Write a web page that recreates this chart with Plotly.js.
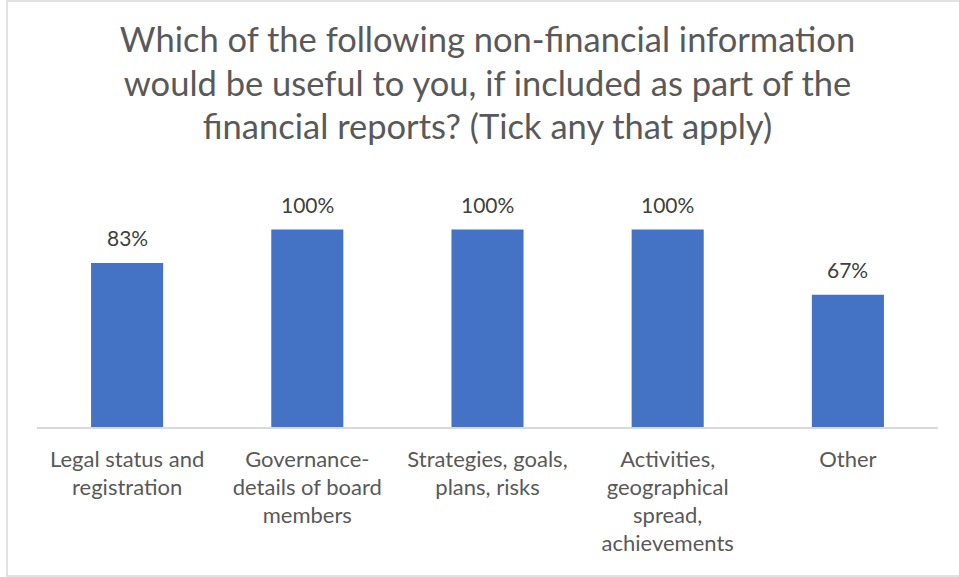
<!DOCTYPE html>
<html>
<head>
<meta charset="utf-8">
<script src="https://cdn.plot.ly/plotly-3.0.1.min.js"></script>
<style>html,body{margin:0;padding:0;background:#fff;}#chart{width:959px;height:577px;}</style>
</head>
<body>
<div id="chart"></div>
<script>
const categories = [
  "Legal status and<br>registration",
  "Governance-<br>details of board<br>members",
  "Strategies, goals,<br>plans, risks",
  "Activities,<br>geographical<br>spread,<br>achievements",
  "Other"
];
const values = [0.83, 1.00, 1.00, 1.00, 0.67];
const valueLabels = ["83%", "100%", "100%", "100%", "67%"];
const titleLines = [
  "Which of the following non-financial information",
  "would be useful to you, if included as part of the",
  "financial reports? (Tick any that apply)"
];

const FONT = "Lato, 'Open Sans', sans-serif";
const wrap = (s, px) => s.split("<br>").map(l => `<span style="font-size:${px}px">${l}</span>`).join("<br>");

const trace = {
  type: "bar",
  x: categories.map(c => wrap(c, 22)),
  y: values,
  marker: {color: "#4472C4"},
  hoverinfo: "skip"
};

const annotations = categories.map((c, i) => ({
  x: wrap(c, 22), y: values[i], xref: "x", yref: "y",
  text: valueLabels[i], showarrow: false, yanchor: "bottom", yshift: 11,
  font: {family: FONT, size: 21, color: "#404040"}
}));

const layout = {
  width: 959, height: 577,
  margin: {l: 37, r: 21, t: 190, b: 150},
  paper_bgcolor: "#fff", plot_bgcolor: "#fff",
  showlegend: false,
  bargap: 0.6,
  title: {
    text: wrap(titleLines.join("<br>"), 34.5),
    font: {family: FONT, size: 33.5, color: "#595959"},
    x: 0.5, xanchor: "center", xref: "paper",
    y: 1 - 52/577, yanchor: "top", yref: "container"
  },
  xaxis: {
    showgrid: false, zeroline: false,
    showline: true, linecolor: "#d9d9d9", linewidth: 1.5,
    ticks: "", ticklabelstandoff: 13,
    tickfont: {family: FONT, size: 21.5, color: "#595959"},
    fixedrange: true
  },
  yaxis: {
    range: [0, 1.2], visible: false, showgrid: false, zeroline: false, fixedrange: true
  },
  annotations: annotations,
  shapes: [{
    type: "rect", xref: "paper", yref: "paper",
    x0: (7 - 37) / 901, x1: (962 - 37) / 901,
    y0: -(576 - 427) / 237, y1: (427 - 1) / 237,
    line: {color: "#d9d9d9", width: 1.5}, fillcolor: "rgba(0,0,0,0)", layer: "below"
  }]
};

Plotly.newPlot("chart", [trace], layout, {displayModeBar: false, staticPlot: true});
</script>
</body>
</html>
